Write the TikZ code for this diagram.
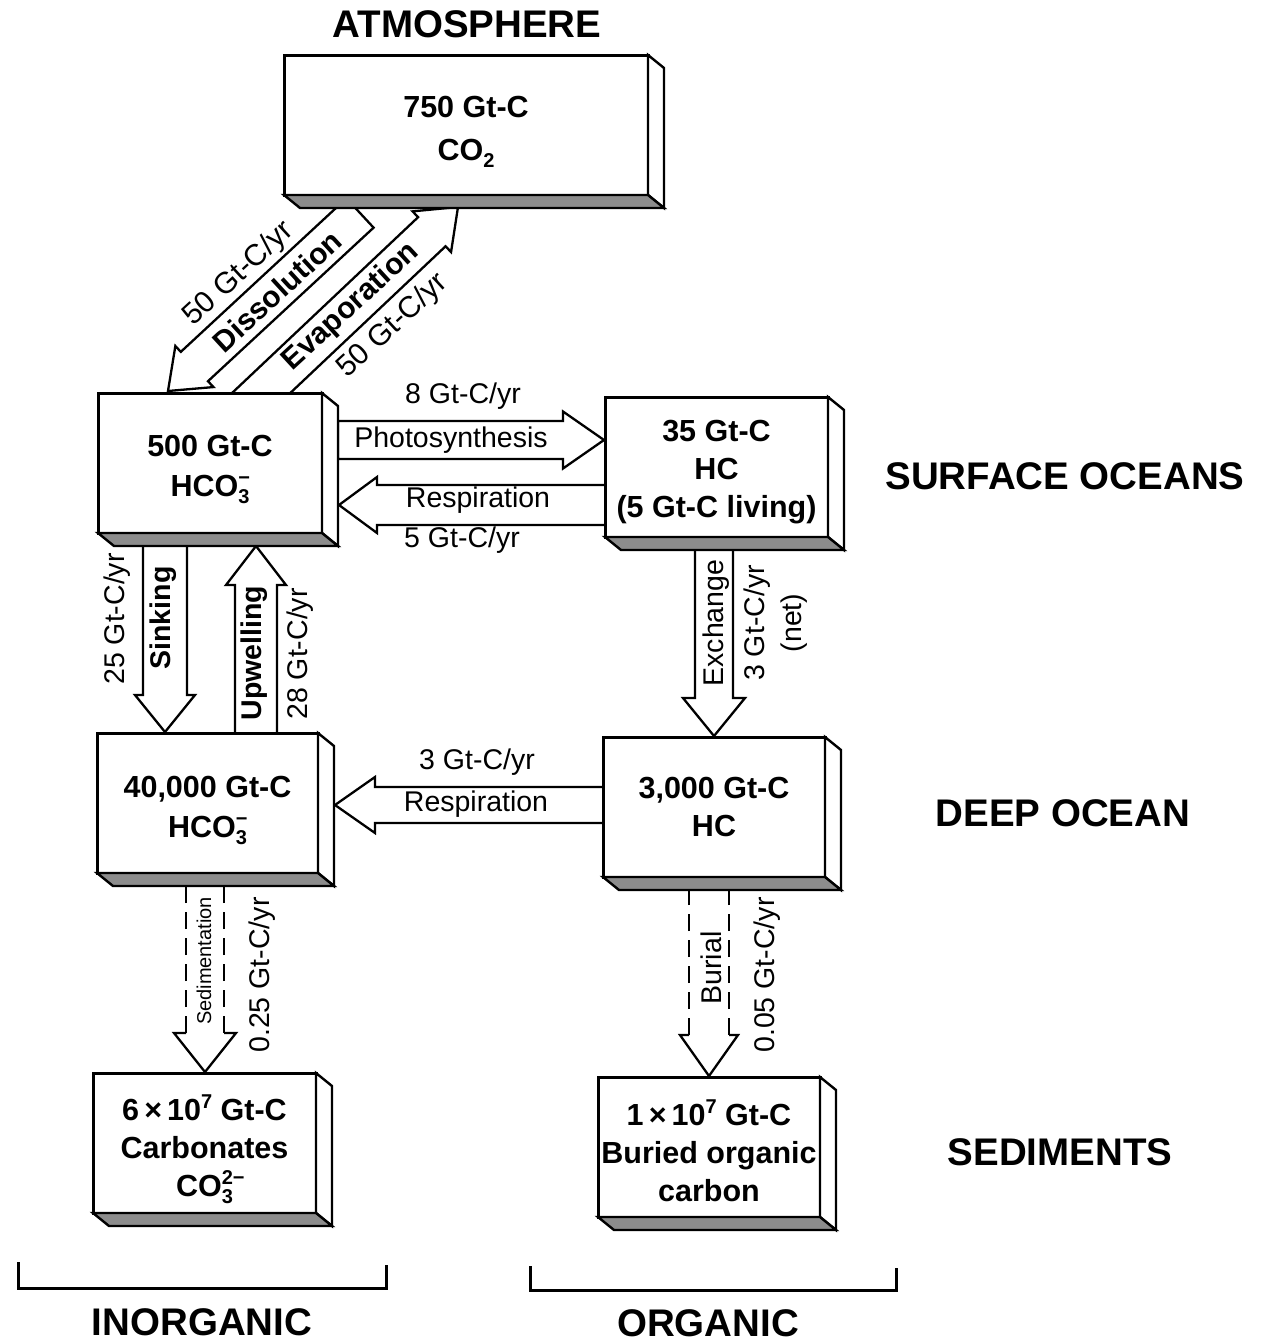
\documentclass[tikz,border=0pt]{standalone}
\usepackage{fontspec}
\setmainfont{Liberation Sans}
\usetikzlibrary{calc}
\pgfdeclarelayer{background}
\pgfsetlayers{background,main}
\definecolor{stripgray}{gray}{0.55}

\newcommand{\boxfont}{\fontsize{30.5}{38}\selectfont\bfseries}
\newcommand{\lblfont}{\fontsize{28.5}{37}\selectfont}
\newcommand{\diagfont}{\fontsize{30}{36}\selectfont}
\newcommand{\tinyfont}{\fontsize{20}{24}\selectfont}
\newcommand{\regionfont}{\fontsize{38.5}{44}\selectfont\bfseries}
\newcommand{\smallscr}[1]{{\fontsize{20}{20}\selectfont #1}}
\newcommand{\chsub}[1]{\raisebox{-7pt}{\smallscr{#1}}}
\newcommand{\chsup}[1]{\raisebox{12pt}{\smallscr{#1}}}
\newcommand{\chsubsup}[2]{\rlap{\chsup{#2}}\chsub{#1}}

% fat hollow arrow: from, to, shaft half width, head half width, head length
\newcommand{\fatflow}[5]{%
  \coordinate (faH) at ($(#2)!#5!(#1)$);
  \draw[flowarrow] ($(#1)!#3!90:(#2)$) -- ($(faH)!#3!90:(#2)$) -- ($(faH)!#4!90:(#2)$) -- (#2)
    -- ($(faH)!#4!-90:(#2)$) -- ($(faH)!#3!-90:(#2)$) -- ($(#1)!#3!-90:(#2)$) -- cycle;}
% same with dashed shaft
\newcommand{\dashflow}[5]{%
  \coordinate (faH) at ($(#2)!#5!(#1)$);
  \draw[dashside] ($(faH)!#3!90:(#2)$) -- ($(#1)!#3!90:(#2)$);
  \draw[dashside] ($(faH)!#3!-90:(#2)$) -- ($(#1)!#3!-90:(#2)$);
  \draw[flowline] ($(faH)!#3!90:(#2)$) -- ($(faH)!#4!90:(#2)$) -- (#2)
    -- ($(faH)!#4!-90:(#2)$) -- ($(faH)!#3!-90:(#2)$);}
% 3-D depth of a box
\newcommand{\boxdepth}[1]{%
  \draw[depthline, fill=white] (#1.north east) -- ++(16,13) -- ($(#1.south east)+(16,13)$) -- (#1.south east) -- cycle;
  \draw[depthline, fill=stripgray] (#1.south west) -- ++(16,13) -- ($(#1.south east)+(16,13)$) -- (#1.south east) -- cycle;}
% box: name, centre, width, text shift, text
\newcommand{\cbox}[5]{%
  \node[box, minimum width=#3] (#1) at (#2) {};
  \node[boxtext] (#1-t) at ($(#1.center)+(0,#4)$) {#5};
  \boxdepth{#1}}

\begin{document}
\begin{tikzpicture}[x=1pt,y=-1pt,
  box/.style={draw, line width=3pt, fill=white, minimum height=140pt, inner sep=0pt, outer sep=0pt},
  boxtext/.style={inner sep=0pt, align=center, font=\boxfont},
  depthline/.style={line width=2.4pt, line join=miter},
  flowarrow/.style={draw, line width=2.3pt, fill=white, line join=miter},
  flowline/.style={line width=2.3pt, line join=miter},
  dashside/.style={line width=2pt, dash pattern=on 17pt off 9pt},
  lbl/.style={font=\lblfont, inner sep=0pt, align=center},
  blbl/.style={font=\lblfont\bfseries, inner sep=0pt},
  dlbl/.style={font=\diagfont, inner sep=0pt},
  region/.style={font=\regionfont, inner sep=0pt},
  bracket/.style={line width=3pt}
]
\useasboundingbox (0,0) rectangle (1266,1344);

% ---------- boxes ----------
\cbox{atm}{466,125}{364pt}{7}{750 Gt-C\\[5pt]CO\chsub{2}}
\cbox{si}{210,463}{224pt}{6}{500 Gt-C\\[2pt]HCO\chsubsup{3}{−}}
\cbox{so}{716.5,467}{223pt}{5}{35 Gt-C\\HC\\(5 Gt-C living)}
\cbox{di}{207.5,803}{221pt}{7}{40,000 Gt-C\\[2pt]HCO\chsubsup{3}{−}}
\cbox{do}{714,807}{222pt}{0}{3,000 Gt-C\\HC}
\cbox{sedi}{204.5,1143}{223pt}{6}{6\,×\,10\chsup{7} Gt-C\\Carbonates\\CO\chsubsup{3}{2−}}
\cbox{sedo}{709,1147}{222pt}{4}{1\,×\,10\chsup{7} Gt-C\\Buried organic\\carbon}

% ---------- arrow end points ----------
\coordinate (dissT) at ($(atm.south)+(-106,18)$);
\coordinate (dissH) at ($(si.north)+(-42,-2)$);
\coordinate (evapT) at ($(si.north)+(30,20)$);
\coordinate (evapH) at ($(atm.south)+(-8,12)$);
\coordinate (photT) at ($(si.east)+(16,-23)$);
\coordinate (photH) at ($(so.west)+(-1,-27)$);
\coordinate (resT)  at ($(so.west)+(15,38)$);
\coordinate (resH)  at ($(si.east)+(17,42)$);
\coordinate (sinkT) at ($(si.south)+(-45,-10)$);
\coordinate (sinkH) at ($(di.north)+(-42.5,-1)$);
\coordinate (upT)   at ($(di.north)+(48.5,10)$);
\coordinate (upH)   at ($(si.south)+(46,13)$);
\coordinate (exT)   at ($(so.south)+(-2.5,-10)$);
\coordinate (exH)   at ($(do.north)+(0,-1)$);
\coordinate (rdT)   at ($(do.west)+(10,-2)$);
\coordinate (rdH)   at ($(di.east)+(17,2)$);
\coordinate (sedT)  at ($(di.south)+(-2.5,0)$);
\coordinate (sedH)  at ($(sedi.north)+(0.5,-1)$);
\coordinate (burT)  at ($(do.south)+(-5,0)$);
\coordinate (burH)  at ($(sedo.north)+(0,-1)$);

% ---------- arrows (behind boxes) ----------
\begin{pgfonlayer}{background}
\fatflow{dissT}{dissH}{20pt}{28pt}{36pt}
\fatflow{evapT}{evapH}{20pt}{28pt}{36pt}
\fatflow{photT}{photH}{19pt}{28.5pt}{41pt}
\fatflow{resT}{resH}{20pt}{28pt}{38pt}
\fatflow{sinkT}{sinkH}{22pt}{30pt}{37pt}
\fatflow{upT}{upH}{21pt}{30pt}{39pt}
\fatflow{exT}{exH}{19pt}{31pt}{38pt}
\fatflow{rdT}{rdH}{18pt}{28pt}{40pt}
\dashflow{sedT}{sedH}{19pt}{31pt}{39pt}
\dashflow{burT}{burH}{20pt}{29pt}{41pt}
\end{pgfonlayer}

% ---------- flow labels ----------
\node[dlbl, rotate=42.6] (l50a) at (239,274) {50 Gt-C/yr};
\node[dlbl, rotate=42.6, font=\diagfont\bfseries] (ldis) at (277,291) {Dissolution};
\node[dlbl, rotate=42.6, font=\diagfont\bfseries] (levap) at (351,307) {Evaporation};
\node[dlbl, rotate=42.6] (l50b) at (393,326) {50 Gt-C/yr};

\node[lbl] (l8) at (463,396) {8 Gt-C/yr};
\node[lbl] (lphot) at (451,440) {Photosynthesis};
\node[lbl] (lres) at (478,500) {Respiration};
\node[lbl] (l5) at (462,540) {5 Gt-C/yr};

\node[lbl, rotate=90] (l25) at (117,619) {25 Gt-C/yr};
\node[blbl, rotate=90] (lsink) at (163,618) {Sinking};
\node[blbl, rotate=90] (lup) at (254,653) {Upwelling};
\node[lbl, rotate=90] (l28) at (300,654) {28 Gt-C/yr};

\node[lbl, rotate=90] (lex) at (716,623) {Exchange};
\node[lbl, rotate=90] (l3net) at (776,623) {3 Gt-C/yr\\(net)};

\node[lbl] (l3) at (477,762) {3 Gt-C/yr};
\node[lbl] (lres2) at (476,804) {Respiration};

\node[inner sep=0pt, font=\tinyfont, rotate=90] (lsed) at (204,961) {Sedimentation};
\node[lbl, rotate=90] (l025) at (262,975) {0.25 Gt-C/yr};
\node[lbl, rotate=90] (lbur) at (711,968) {Burial};
\node[lbl, rotate=90] (l005) at (767,975) {0.05 Gt-C/yr};

% ---------- region labels ----------
\node[region] (tatm) at (467,24) {ATMOSPHERE};
\node[region] (tsurf) at (1065,476) {SURFACE OCEANS};
\node[region] (tdeep) at (1063,813) {DEEP OCEAN};
\node[region] (tsed) at (1060,1152) {SEDIMENTS};
\node[region] (tinorg) at (202,1322) {INORGANIC};
\node[region] (torg) at (708,1323) {ORGANIC};

% ---------- brackets ----------
\draw[bracket] (18,1262) -- (18,1288) -- (386,1288) -- (386,1265);
\draw[bracket] (530,1266) -- (530,1290) -- (896,1290) -- (896,1268);
\end{tikzpicture}
\end{document}
